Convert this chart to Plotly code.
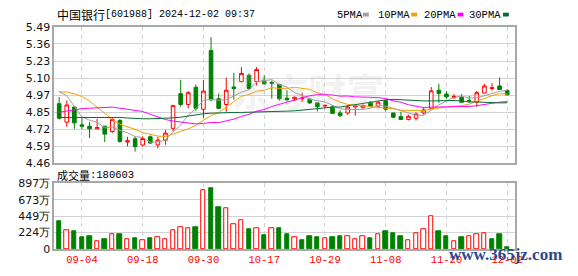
import plotly.graph_objects as go

# ---------------- data ----------------
dates = ["08-30", "09-02", "09-03", "09-04", "09-05", "09-06", "09-09", "09-10", "09-11", "09-12",
         "09-13", "09-18", "09-19", "09-20", "09-23", "09-24", "09-25", "09-26", "09-27", "09-30",
         "10-08", "10-09", "10-10", "10-11", "10-14", "10-15", "10-16", "10-17", "10-18", "10-21",
         "10-22", "10-23", "10-24", "10-25", "10-28", "10-29", "10-30", "10-31", "11-01", "11-04",
         "11-05", "11-06", "11-07", "11-08", "11-11", "11-12", "11-13", "11-14", "11-15", "11-18",
         "11-19", "11-20", "11-21", "11-22", "11-25", "11-26", "11-27", "11-28", "11-29", "12-02"]

opens = [4.91, 4.77, 4.885, 4.75, 4.74, 4.72, 4.74, 4.70, 4.784, 4.62,
         4.645, 4.598, 4.66, 4.598, 4.635, 4.724, 4.986, 4.904, 5.034, 4.868,
         5.312, 4.947, 4.904, 5.036, 5.077, 5.125, 5.077, 5.087, 5.07, 5.055,
         4.952, 4.947, 4.948, 4.945, 4.916, 4.892, 4.887, 4.84, 4.84, 4.885,
         4.88, 4.921, 4.892, 4.933, 4.84, 4.813, 4.791, 4.80, 4.84, 4.875,
         5.012, 4.983, 4.955, 4.957, 4.935, 4.923, 4.99, 5.025, 5.044, 5.01]
highs = [4.96, 4.935, 4.89, 4.80, 4.772, 4.796, 4.74, 4.80, 4.793, 4.66,
         4.664, 4.664, 4.67, 4.66, 4.712, 4.897, 5.09, 5.005, 5.055, 5.09,
         5.413, 4.988, 5.108, 5.144, 5.187, 5.139, 5.187, 5.125, 5.084, 5.06,
         5.012, 4.962, 4.993, 4.95, 4.92, 4.905, 4.90, 4.861, 4.90, 4.90,
         4.904, 4.928, 4.933, 4.94, 4.84, 4.849, 4.827, 4.844, 4.885, 5.036,
         5.06, 5.005, 4.983, 4.983, 4.969, 5.007, 5.06, 5.065, 5.108, 5.02]
lows = [4.79, 4.736, 4.72, 4.717, 4.65, 4.718, 4.62, 4.69, 4.615, 4.587,
        4.548, 4.587, 4.61, 4.573, 4.60, 4.70, 4.887, 4.875, 4.856, 4.80,
        4.93, 4.868, 4.849, 4.94, 5.072, 5.017, 5.048, 5.058, 4.947, 4.933,
        4.928, 4.93, 4.923, 4.909, 4.851, 4.875, 4.835, 4.808, 4.825, 4.82,
        4.872, 4.885, 4.875, 4.851, 4.80, 4.79, 4.784, 4.784, 4.827, 4.875,
        4.916, 4.947, 4.948, 4.916, 4.916, 4.887, 4.99, 5.01, 5.017, 4.975]
closes = [4.80, 4.90, 4.765, 4.74, 4.72, 4.73, 4.68, 4.79, 4.625, 4.63,
          4.585, 4.647, 4.612, 4.635, 4.688, 4.897, 4.904, 4.993, 4.875, 5.005,
          4.94, 4.875, 5.012, 5.024, 5.139, 5.024, 5.168, 5.06, 5.065, 4.947,
          4.94, 4.959, 4.952, 4.916, 4.887, 4.897, 4.837, 4.82, 4.885, 4.892,
          4.897, 4.887, 4.921, 4.868, 4.808, 4.791, 4.815, 4.832, 4.863, 5.007,
          4.988, 4.962, 4.965, 4.921, 4.932, 4.993, 5.044, 5.03, 5.017, 4.977]
# volume in 万 (10k shares)
volumes = [377, 256, 247, 156, 169, 104, 130, 195, 195, 130,
           143, 117, 143, 156, 130, 256, 295, 282, 299, 802,
           832, 572, 555, 334, 399, 269, 282, 182, 282, 282,
           195, 165, 126, 169, 156, 152, 156, 169, 178, 139,
           178, 143, 195, 247, 221, 169, 126, 221, 269, 442,
           247, 169, 100, 156, 169, 195, 221, 130, 195, 18.06]

ma5 = [5.00, 4.97, 4.89, 4.81, 4.785, 4.771, 4.727, 4.732, 4.708, 4.69,
       4.661, 4.655, 4.619, 4.622, 4.634, 4.697, 4.748, 4.824, 4.872, 4.935,
       4.942, 4.936, 4.94, 4.97, 4.997, 5.015, 5.074, 5.084, 5.092, 5.053,
       5.036, 4.994, 4.972, 4.943, 4.931, 4.923, 4.898, 4.872, 4.866, 4.866,
       4.866, 4.876, 4.896, 4.892, 4.876, 4.855, 4.84, 4.823, 4.822, 4.861,
       4.901, 4.93, 4.957, 4.968, 4.953, 4.954, 4.971, 4.984, 5.003, 5.012]
ma10 = [5.00, 4.998, 4.985, 4.964, 4.93, 4.885, 4.835, 4.79, 4.755, 4.738,
        4.716, 4.691, 4.676, 4.665, 4.662, 4.679, 4.70, 4.72, 4.747, 4.785,
        4.82, 4.842, 4.882, 4.921, 4.966, 4.979, 5.005, 5.012, 5.031, 5.025,
        5.026, 5.034, 5.028, 5.018, 4.992, 4.98, 4.946, 4.922, 4.905, 4.899,
        4.895, 4.887, 4.884, 4.879, 4.871, 4.861, 4.858, 4.86, 4.857, 4.869,
        4.878, 4.885, 4.89, 4.895, 4.907, 4.928, 4.951, 4.971, 4.986, 4.983]
ma20 = [4.845, 4.856, 4.866, 4.873, 4.876, 4.88, 4.882, 4.884, 4.876, 4.868,
        4.86, 4.851, 4.83, 4.808, 4.79, 4.779, 4.77, 4.762, 4.757, 4.761,
        4.768, 4.767, 4.779, 4.793, 4.814, 4.829, 4.853, 4.866, 4.889, 4.905,
        4.923, 4.938, 4.955, 4.97, 4.979, 4.98, 4.976, 4.967, 4.968, 4.962,
        4.961, 4.961, 4.956, 4.949, 4.932, 4.921, 4.902, 4.891, 4.881, 4.884,
        4.887, 4.886, 4.887, 4.887, 4.889, 4.895, 4.905, 4.916, 4.922, 4.926]
ma30 = [4.805, 4.805, 4.806, 4.807, 4.808, 4.808, 4.808, 4.807, 4.806, 4.802,
        4.798, 4.796, 4.796, 4.797, 4.80, 4.803, 4.808, 4.818, 4.828, 4.834,
        4.838, 4.841, 4.843, 4.844, 4.844, 4.845, 4.845, 4.846, 4.847, 4.849,
        4.854, 4.856, 4.862, 4.868, 4.873, 4.879, 4.884, 4.885, 4.894, 4.903,
        4.914, 4.921, 4.931, 4.939, 4.943, 4.94, 4.936, 4.931, 4.931, 4.931,
        4.933, 4.935, 4.934, 4.931, 4.923, 4.923, 4.918, 4.918, 4.916, 4.917]

x_tick_labels = ["09-04", "09-18", "09-30", "10-17", "10-29", "11-08", "11-20", "12-02"]
price_tick_text = ["4.46", "4.59", "4.72", "4.85", "4.97", "5.10", "5.23", "5.36", "5.49"]
price_min, price_max = 4.46, 5.49
vol_tick_text = ["0", "224万", "449万", "673万", "897万"]
vol_max = 897
ma_names = ["5PMA", "10PMA", "20PMA", "30PMA"]
last_volume_shares = "180603"
title_cn = "中国银行"
title_rest = "[601988] 2024-12-02 09:37"

# ---------------- styles ----------------
RED = "#ff0000"
GREEN = "#008000"
MA_COLORS = ["#a0a0a0", "#f5a000", "#ff00ff", "#006e2e"]
GRID = "#d2d2d2"
FRAME = "#a8a8a8"
W, H = 578, 276
L, R = 55, 522
P_TOP, P_BOT = 22, 165
V_TOP, V_BOT = 186, 255

def px(x):
    return x / W

def py(y):
    return 1 - y / H

xs = list(range(len(dates)))
tick_idx = [dates.index(d) for d in x_tick_labels]
n_pt = len(price_tick_text)
price_tickvals = [price_min + (price_max - price_min) * i / (n_pt - 1) for i in range(n_pt)]
n_vt = len(vol_tick_text)
vol_tickvals = [vol_max * i / (n_vt - 1) for i in range(n_vt)]

# volume color by close vs previous close
vol_up = []
for i, c in enumerate(closes):
    prev = closes[i - 1] if i > 0 else opens[0]
    vol_up.append(c >= prev)
vol_fill = ["white" if u else GREEN for u in vol_up]
vol_line = [RED if u else GREEN for u in vol_up]

fig = go.Figure()
fig.add_trace(go.Candlestick(
    x=xs, open=opens, high=highs, low=lows, close=closes,
    increasing=dict(line=dict(color=RED, width=1), fillcolor="white"),
    decreasing=dict(line=dict(color=GREEN, width=1), fillcolor=GREEN),
    whiskerwidth=0, hoverinfo="skip", showlegend=False,
    xaxis="x", yaxis="y"))
for name, vals, col in zip(ma_names, [ma5, ma10, ma20, ma30], MA_COLORS):
    fig.add_trace(go.Scatter(x=xs, y=vals, mode="lines", name=name,
                             line=dict(color=col, width=1), showlegend=False,
                             hoverinfo="skip", xaxis="x", yaxis="y"))
fig.add_trace(go.Bar(x=xs, y=volumes, width=0.58,
                     marker=dict(color=vol_fill, line=dict(color=vol_line, width=1)),
                     showlegend=False, hoverinfo="skip", xaxis="x2", yaxis="y2"))

xrange = [-0.65, len(dates)]
common_x = dict(domain=[px(L), px(R)], range=xrange, tickvals=tick_idx,
                showgrid=True, gridcolor=GRID, griddash="4px,4px", gridwidth=1,
                showline=True, mirror=True, linecolor=FRAME, linewidth=1.5,
                zeroline=False, ticks="", fixedrange=True)
axis_font = dict(family="DejaVu Sans", size=11, color="#111111")

fig.update_layout(
    width=W, height=H, margin=dict(l=0, r=0, t=0, b=0),
    paper_bgcolor="white", plot_bgcolor="white",
    boxgap=0.32, bargap=0,
    xaxis=dict(**common_x, anchor="y", showticklabels=False,
               rangeslider=dict(visible=False)),
    xaxis2=dict(**common_x, anchor="y2", ticktext=x_tick_labels,
                tickfont=dict(family="Liberation Mono", size=10.5, color=RED)),
    yaxis=dict(domain=[py(P_BOT), py(P_TOP)], range=[price_min, price_max],
               tickvals=price_tickvals, ticktext=price_tick_text, tickfont=axis_font,
               showgrid=True, gridcolor=GRID, gridwidth=1, showline=True, mirror=True,
               linecolor=FRAME, linewidth=1.5, zeroline=False, ticks="", anchor="x",
               fixedrange=True),
    yaxis2=dict(domain=[py(V_BOT), py(V_TOP)], range=[0, vol_max],
                tickvals=vol_tickvals, ticktext=vol_tick_text, tickfont=axis_font,
                showgrid=True, gridcolor=GRID, gridwidth=1, showline=True, mirror=True,
                linecolor=FRAME, linewidth=1.5, zeroline=False, ticks="", anchor="x2",
                fixedrange=True),
)

ann = []
# faint background watermark
ann.append(dict(text="<b>东方财富</b>", x=px(312), y=py(88), xref="paper", yref="paper",
                xanchor="center", yanchor="middle", showarrow=False,
                font=dict(family="Noto Sans CJK SC", size=38,
                          color="rgba(190,190,190,0.2)")))
# title
ann.append(dict(text=title_cn, x=px(56), y=py(9), xref="paper", yref="paper",
                xanchor="left", yanchor="middle", showarrow=False,
                font=dict(family="Noto Sans CJK SC", size=12, color="#000")))
ann.append(dict(text=title_rest, x=px(104), y=py(9), xref="paper", yref="paper",
                xanchor="left", yanchor="middle", showarrow=False,
                font=dict(family="Liberation Mono", size=10, color="#000")))
# legend
leg_text_x = [340, 381, 428, 474]
leg_sq_x = [368, 417, 464, 510]
for name, col, tx, sx in zip(ma_names, MA_COLORS, leg_text_x, leg_sq_x):
    ann.append(dict(text=name, x=px(tx), y=py(9), xref="paper", yref="paper",
                    xanchor="left", yanchor="middle", showarrow=False,
                    font=dict(family="Liberation Mono", size=10.5, color="#000")))
shapes = []
for col, sx in zip(MA_COLORS, leg_sq_x):
    shapes.append(dict(type="rect", xref="paper", yref="paper",
                       x0=px(sx), x1=px(sx + 6), y0=py(11), y1=py(7),
                       fillcolor=col, line=dict(width=0)))
# volume label
ann.append(dict(text="成交量", x=px(56), y=py(177), xref="paper", yref="paper",
                xanchor="left", yanchor="middle", showarrow=False,
                font=dict(family="Noto Sans CJK SC", size=11, color="#000")))
ann.append(dict(text=":" + last_volume_shares, x=px(89), y=py(177), xref="paper", yref="paper",
                xanchor="left", yanchor="middle", showarrow=False,
                font=dict(family="Liberation Mono", size=10.5, color="#000")))
# site watermark (overlaps the last axis labels, as in the reference)
ann.append(dict(text="<b>www.365jz.com</b>", x=px(513), y=py(261), xref="paper", yref="paper",
                xanchor="center", yanchor="middle", showarrow=False,
                font=dict(family="Liberation Serif", size=17, color="#2a4a8c")))

fig.update_layout(annotations=ann, shapes=shapes)
fig.write_html("out.html")
